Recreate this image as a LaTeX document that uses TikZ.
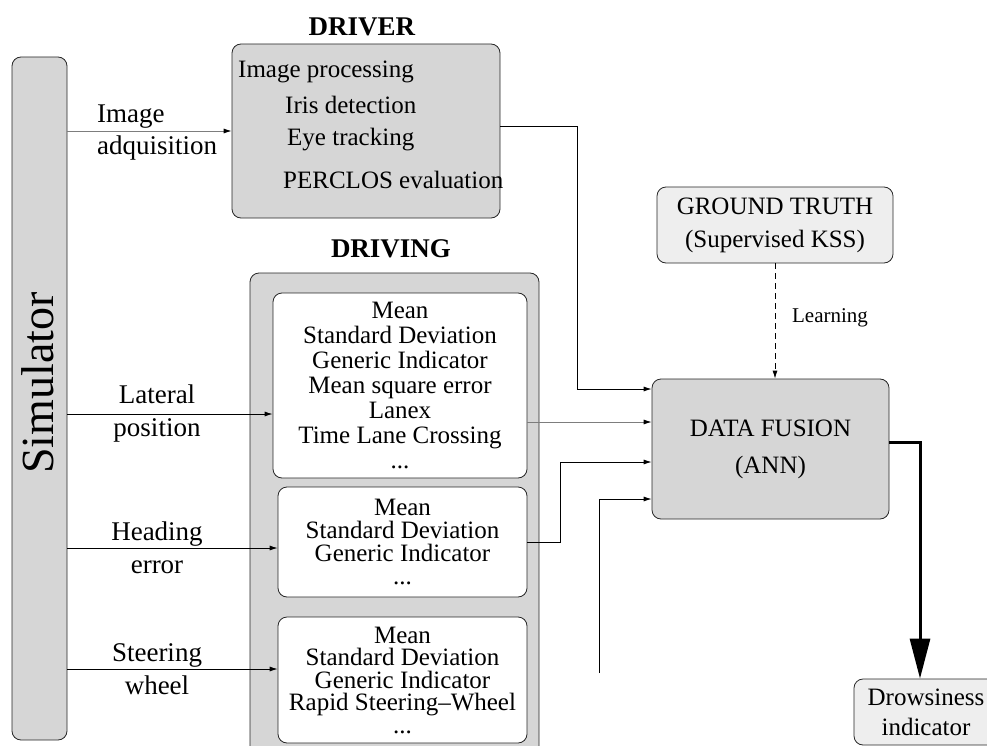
\documentclass[tikz,border=0pt]{standalone}
\usepackage{fontspec}
\setmainfont{Liberation Serif}
\usetikzlibrary{arrows.meta}
\definecolor{boxgrey}{RGB}{214,214,214}
\definecolor{lightbox}{RGB}{238,238,238}
\definecolor{lineg}{RGB}{125,125,125}
\begin{document}
\begin{tikzpicture}[x=1pt,y=-1pt,
  greybox/.style={draw=black!85, line width=0.8pt, fill=boxgrey, rounded corners=9pt, inner sep=0pt},
  litebox/.style={draw=black!85, line width=0.8pt, fill=lightbox, rounded corners=9pt, inner sep=0pt, align=center},
  whitebox/.style={draw=black!85, line width=0.8pt, fill=white, rounded corners=9pt, inner sep=0pt, align=center},
  txt/.style={inner sep=0pt, font=\fontsize{25}{25}\selectfont},
  lbl/.style={inner sep=0pt, align=center, font=\fontsize{27}{33}\selectfont},
  ttl/.style={inner sep=0pt, font=\bfseries\fontsize{27}{27}\selectfont},
  arr/.style={-{Latex[length=8pt,width=5pt,color=black]}, line width=0.8pt}
]
\useasboundingbox (0,0) rectangle (987,746);

% Simulator
\node[greybox, minimum width=55pt, minimum height=683pt] (sim) at (39.5,398.5) {};
\node[rotate=90, inner sep=0pt, font=\fontsize{46}{46}\selectfont] (simtxt) at (38,383) {Simulator};

% DRIVER
\node[ttl] (drivert) at (362,27) {DRIVER};
\node[greybox, minimum width=268pt, minimum height=174pt] (driver) at (366,131) {};
\node[txt, anchor=west] (d1) at (238,72) {Image processing};
\node[txt, anchor=west] (d2) at (285,105) {Iris detection};
\node[txt, anchor=west] (d3) at (287,140) {Eye tracking};
\node[txt, anchor=west] (d4) at (283,180) {PERCLOS evaluation};

% DRIVING
\node[ttl] (drivingt) at (391,249) {DRIVING};
\node[greybox, minimum width=289pt, minimum height=507pt] (driving) at (394.5,526.5) {};
\node[whitebox, minimum width=254pt, minimum height=185pt, font=\fontsize{25}{25}\selectfont] (lat) at (400,385.5)
  {Mean\\Standard Deviation\\Generic Indicator\\Mean square error\\Lanex\\Time Lane Crossing\\...};
\node[whitebox, minimum width=249pt, minimum height=110pt, font=\fontsize{25}{23.3}\selectfont] (hd) at (402.5,542)
  {Mean\\Standard Deviation\\Generic Indicator\\...};
\node[whitebox, minimum width=249pt, minimum height=126pt, font=\fontsize{25}{22.5}\selectfont] (st) at (402.5,680)
  {Mean\\Standard Deviation\\Generic Indicator\\Rapid Steering–Wheel\\...};

% Ground truth and data fusion
\node[litebox, minimum width=236pt, minimum height=76pt, font=\fontsize{25}{33}\selectfont] (gt) at (775,225)
  {GROUND TRUTH\\(Supervised KSS)};
\node[greybox, minimum width=237pt, minimum height=140pt, align=center, font=\fontsize{25}{37}\selectfont] (df) at (770.5,449)
  {DATA FUSION\\(ANN)};
\node[litebox, minimum width=144pt, minimum height=66pt, font=\fontsize{25}{30}\selectfont] (drow) at (926,712)
  {Drowsiness\\indicator};

% Labels on the left
\node[lbl, anchor=west] (ia1) at (97,117) {Image};
\node[lbl, anchor=west] (ia2) at (97,148) {adquisition};
\node[lbl] (latl) at (157,414) {Lateral\\position};
\node[lbl] (hdl) at (157,548) {Heading\\error};
\node[lbl] (stl) at (157,669) {Steering\\wheel};
\node[inner sep=0pt, font=\fontsize{21}{21}\selectfont] (learn) at (830,318) {Learning};

% Connectors from simulator
\draw[arr, draw=lineg] (sim.east |- driver.west) -- (driver.west);
\draw[arr] (sim.east |- latl) -- (lat.west |- latl);
\draw[arr] (sim.east |- hdl) -- (hd.west |- hdl);
\draw[arr] (sim.east |- stl) -- (st.west |- stl);

% Connectors to data fusion
\coordinate (drvout) at (500,126);
\coordinate (latout) at (527,422);
\coordinate (freein) at (599,673);
\coordinate (bend) at (920,442);
\draw[arr] (drvout) -- (577,126) -- (577,389) -- (df.west |- 0,389);
\draw[arr, draw=lineg] (latout) -- (df.west |- latout);
\draw[arr] (hd.east) -- (560,542) -- (560,462) -- (df.west |- 0,462);
\draw[arr] (freein) |- (df.west |- 0,499);
\draw[arr, dashed, dash pattern=on 6pt off 4pt] (gt.south) -- (gt.south |- df.north);
\draw[line width=3pt, -{Triangle[length=40pt,width=20pt]}] (df.east |- bend) -- (bend) -- (bend |- drow.north);
\end{tikzpicture}
\end{document}
